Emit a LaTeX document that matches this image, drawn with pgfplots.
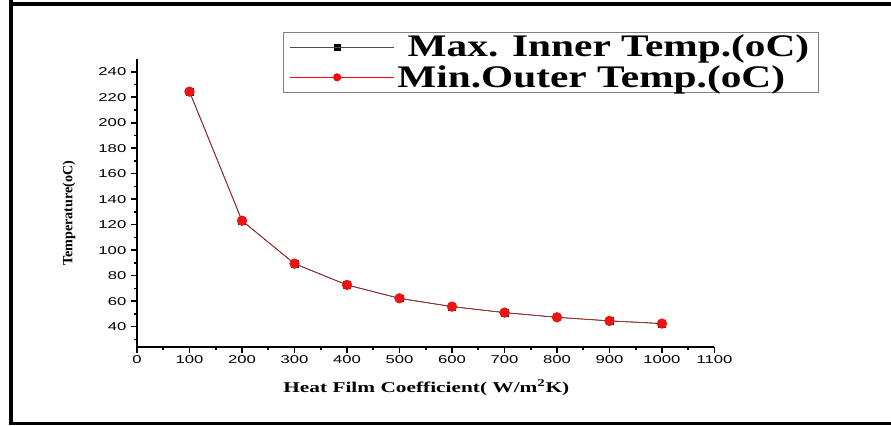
\documentclass[border=0pt]{standalone}
\usepackage{pgfplots}
\pgfplotsset{compat=1.18}
\usepackage{fontspec}
\setmainfont{Liberation Serif}
\setsansfont{Liberation Sans}
\usepackage{graphicx}
\definecolor{lineRed}{RGB}{175,45,40}
\definecolor{markRed}{RGB}{235,20,20}
\begin{document}
\begin{tikzpicture}
\path[use as bounding box] (0,0) rectangle (668.25pt,318.75pt);
\draw[line width=3pt] (7.9pt,318.75pt) -- (7.9pt,0pt);
\draw[line width=3pt] (6.4pt,315.75pt) -- (668.25pt,315.75pt);
\draw[line width=2.25pt] (6.4pt,1.125pt) -- (668.25pt,1.125pt);
\begin{axis}[
  at={(102.75pt,58.5pt)}, anchor=south west,
  width=433.1pt, height=216pt, scale only axis,
  xmin=0, xmax=1100, ymin=24, ymax=250,
  axis x line*=bottom, axis y line*=left,
  axis line style={line width=1.6pt,-},
  xtick={0,100,...,1100}, ytick={40,60,...,240},
  minor xtick={50,150,...,1050}, minor ytick={30,50,...,230},
  tick align=outside,
  major tick length=4.5pt, minor tick length=2.5pt,
  every tick/.style={black, line width=1.2pt},
  tick label style={font=\sffamily\fontsize{12.5}{12.5}\selectfont, yscale=0.68},
  /pgf/number format/assume math mode=true,
  /pgf/number format/1000 sep={},
  xticklabel style={yshift=1pt},
  xlabel={\scalebox{1}[0.7]{\bfseries\fontsize{16}{16}\selectfont Heat Film Coefficient( W/m\textsuperscript{2}K)}},
  xlabel style={at={(rel axis cs:0.501,-0.142)}, anchor=center},
  ylabel={\bfseries\fontsize{10.6}{10.6}\selectfont Temperature(oC)},
  ylabel style={at={(rel axis cs:-0.118,0.465)}, anchor=center},
  clip=false,
  legend style={at={(rel axis cs:0.253,1.094)}, anchor=north west,
    draw=gray, line width=0.6pt, inner xsep=5pt, inner ysep=0pt, row sep=1pt,
    font=\bfseries\fontsize{31}{31}\selectfont},
  legend cell align=left,
  legend image code/.code={\draw[mark repeat=2,mark phase=2,#1] plot coordinates {(0pt,0pt) (35pt,0pt) (70pt,0pt)}; \path (0pt,0pt) -- (78pt,0pt);},
]
\addplot[black, line width=0.5pt, mark=square*, mark size=2.6pt, forget plot] coordinates {
(100,224.4) (200,123.1) (300,89.4) (400,72.7) (500,62.2) (600,55.7) (700,51.0) (800,47.3) (900,44.5) (1000,42.4)};
\addplot[lineRed, line width=0.5pt, mark=*, mark size=3.6pt, mark options={markRed, fill=markRed}, forget plot] coordinates {
(100,224.4) (200,123.1) (300,89.4) (400,72.7) (500,62.2) (600,55.7) (700,51.0) (800,47.3) (900,44.5) (1000,42.4)};
\addlegendimage{black!70, line width=0.4pt, mark=square*, mark size=2.2pt, mark options={black}}
\addlegendentry{\scalebox{1}[0.76]{~Max. Inner Temp.(oC)}}
\addlegendimage{red, line width=0.4pt, mark=*, mark size=2.8pt, mark options={red}}
\addlegendentry{\scalebox{1}[0.76]{Min.Outer Temp.(oC)}}
\end{axis}
\end{tikzpicture}
\end{document}
